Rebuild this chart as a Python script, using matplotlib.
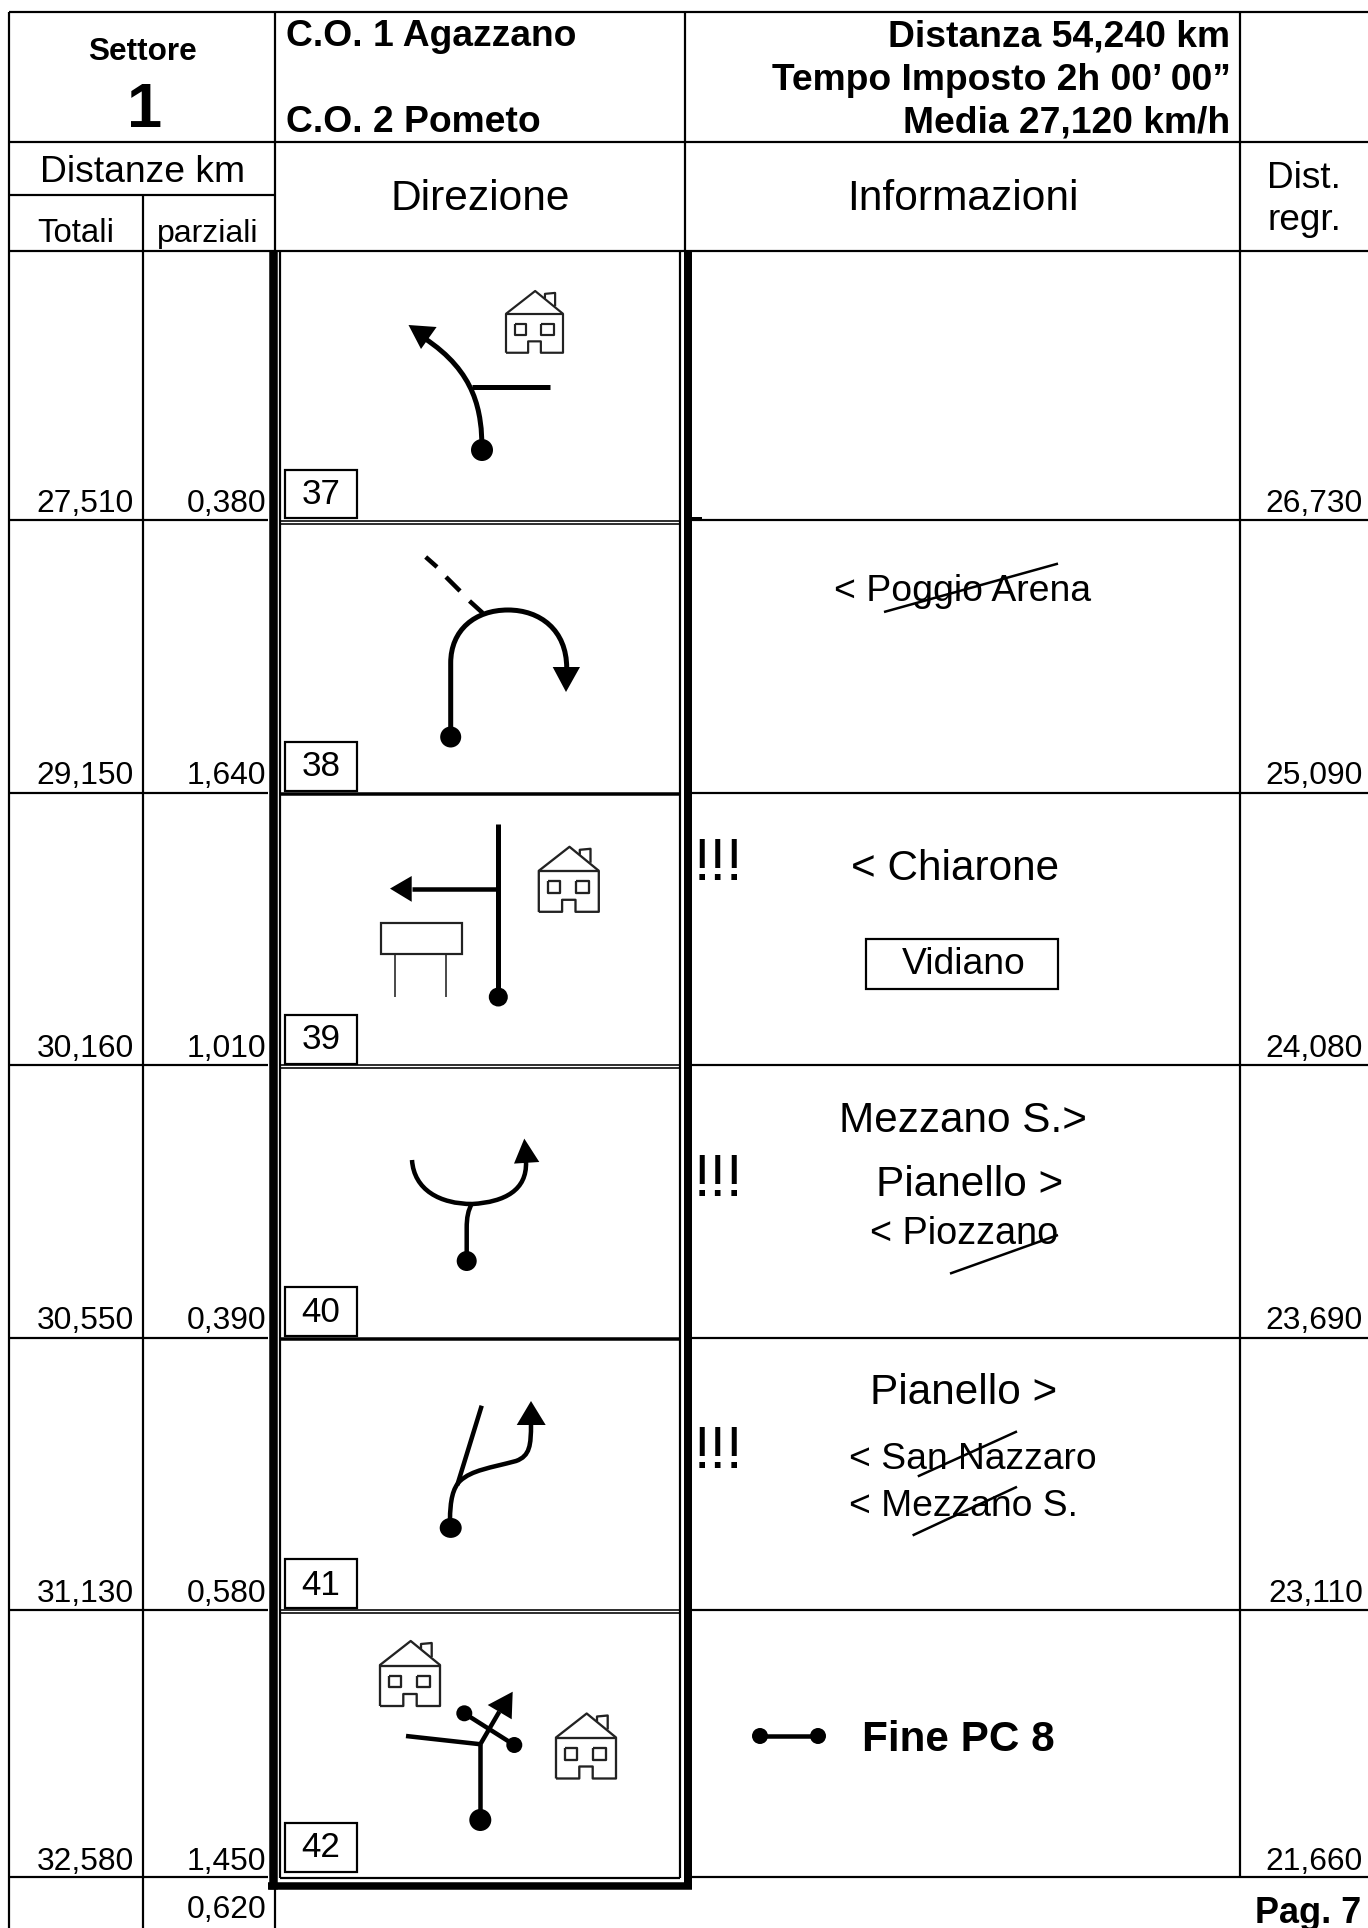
import matplotlib
matplotlib.use('Agg')
import matplotlib.pyplot as plt
from matplotlib.patches import Circle, Ellipse, PathPatch, Polygon, Rectangle
from matplotlib.path import Path

plt.rcParams['font.family'] = ['Liberation Sans', 'DejaVu Sans']

WIDTH = 1368
HEIGHT = 1928
DPI = 100

# values read from the page
totali = ['27,510', '29,150', '30,160', '30,550', '31,130', '32,580']
parziali = ['0,380', '1,640', '1,010', '0,390', '0,580', '1,450', '0,620']
regressive = ['26,730', '25,090', '24,080', '23,690', '23,110', '21,660']
note_numbers = ['37', '38', '39', '40', '41', '42']

row_lines = [251, 520, 793, 1065, 1338, 1610, 1877]
box_tops = [470, 742, 1015, 1287, 1559, 1823]
box_bottoms = [518, 791, 1063.5, 1336, 1607.5, 1872]
box_baselines = [504, 776, 1049, 1322, 1595, 1857]
value_baselines = [512, 784, 1057, 1329, 1602, 1870]

fig = plt.figure(figsize=(WIDTH / DPI, HEIGHT / DPI), dpi=DPI, facecolor='white')
ax = fig.add_axes([0, 0, 1, 1])
ax.set_xlim(0, WIDTH)
ax.set_ylim(HEIGHT, 0)
ax.axis('off')


def pt(px):
    return px * 72 / DPI


def line(xs, ys, width=2.2, color='black', zorder=2):
    ax.plot(xs, ys, color=color, lw=pt(width), solid_capstyle='butt', zorder=zorder)


def label(x, y, text, size, ha='left', bold=False):
    ax.text(x, y, text, fontsize=pt(size), ha=ha, va='baseline', color='black',
            fontweight='bold' if bold else 'normal', zorder=5)


def dot(x, y, r):
    ax.add_patch(Circle((x, y), r, fc='black', ec='none', zorder=4))


def arrow_head(points):
    ax.add_patch(Polygon(points, closed=True, fc='black', ec='none', zorder=4))


def curve(start, segments, width=5):
    verts = [start]
    codes = [Path.MOVETO]
    for seg in segments:
        if len(seg) == 1:
            verts += seg
            codes += [Path.LINETO]
        else:
            verts += seg
            codes += [Path.CURVE4] * 3
    ax.add_patch(PathPatch(Path(verts, codes), fc='none', ec='black', lw=pt(width),
                           capstyle='butt', zorder=3))


def house(x, y, scale=1.0):
    c = '#222222'
    w = 2.3 * scale

    def seg(pts):
        line([x + p[0] * scale for p in pts], [y + p[1] * scale for p in pts], width=w, color=c)

    seg([(0, 65), (0, 24), (30.7, 0), (60, 24), (60, 65), (36.7, 65), (36.7, 53), (23.3, 53), (23.3, 65), (0, 65)])
    seg([(0, 24.6), (60, 24.6)])
    seg([(41, 8), (41, 3), (51.7, 2), (51.7, 16)])
    seg([(9, 34.6), (20.7, 34.6), (20.7, 46), (9, 46), (9, 34.6)])
    seg([(37.3, 34.6), (50, 34.6), (50, 46), (37.3, 46), (37.3, 34.6)])


# table grid
line([9, 1368], [12, 12])
line([9, 1368], [142, 142])
line([9, 275], [195, 195])
line([9, 1368], [251, 251])
line([9, 9], [12, 1928])
line([143, 143], [195, 1928])
line([275, 275], [12, 251])
line([275, 275], [1889, 1928])
line([685, 685], [12, 251])
line([1239.5, 1239.5], [12, 1877])

for y in row_lines[1:]:
    line([9, 268], [y, y])
    line([692, 1368], [y, y])

# central column frame
line([272.5, 272.5], [251, 1889], width=8.5)
line([687.5, 687.5], [251, 1889], width=8)
line([268, 692], [1885.5, 1885.5], width=7.5)
line([280, 280], [251, 1878])
line([679.5, 679.5], [251, 1878])
line([280, 680], [1878, 1878])
for y in [520.7, 523.5, 1065, 1067.8, 1610, 1613]:
    line([280, 680], [y, y], width=1.6)
for y in [794, 1338.6]:
    line([280, 680], [y, y], width=3.5)
line([691, 702], [518, 518], width=2)

# header text
label(143, 60, 'Settore', 31.5, ha='center', bold=True)
label(145, 127, '1', 63, ha='center', bold=True)
label(286, 46, 'C.O. 1 Agazzano', 37.3, bold=True)
label(286, 132, 'C.O. 2 Pometo', 37.3, bold=True)
label(1230.5, 46, 'Distanza 54,240 km', 37.3, ha='right', bold=True)
label(1230.5, 89.5, 'Tempo Imposto 2h 00\u2019 00\u201d', 37.3, ha='right', bold=True)
label(1230.5, 132.5, 'Media 27,120 km/h', 37.3, ha='right', bold=True)
label(143, 182, 'Distanze km', 37.3, ha='center')
label(480, 210, 'Direzione', 42.5, ha='center')
label(963, 210, 'Informazioni', 42.5, ha='center')
label(76, 242, 'Totali', 33, ha='center')
label(208, 242, 'parziali', 32, ha='center')
label(1304, 188, 'Dist.', 37, ha='center')
label(1304, 230.5, 'regr.', 37, ha='center')

# distances and note numbers
for i, y in enumerate(value_baselines):
    label(134, y, totali[i], 31.8, ha='right')
    label(266.5, y, parziali[i], 31.8, ha='right')
    label(1363, y, regressive[i], 31.8, ha='right')
label(266.5, 1918, parziali[6], 31.8, ha='right')

for i, num in enumerate(note_numbers):
    ax.add_patch(Rectangle((285, box_tops[i]), 72, box_bottoms[i] - box_tops[i],
                           fc='white', ec='black', lw=pt(2.2), zorder=3))
    label(321, box_baselines[i], num, 35, ha='center')

# 37
house(506, 291, 0.95)
curve((482, 450), [[(482, 412), (476, 372), (424, 338)]])
arrow_head([(408.5, 325), (436.6, 327), (421, 349)])
line([472, 550], [387, 387], width=5)
dot(482, 450, 11)

# 38
curve((450.7, 737), [[(450.7, 663)], [(450.7, 630), (475, 610), (508, 610)],
                     [(540, 610), (566.7, 630), (566.7, 668)]])
arrow_head([(566, 692), (552.7, 667), (580, 667)])
line([425.7, 437], [557, 567], width=4.5)
line([446, 460], [577, 591], width=4.5)
line([469.5, 482.7], [601, 613], width=4.5)
dot(450.7, 737, 10.5)

# 39
house(538.8, 846.8)
line([498.3, 498.3], [824, 997], width=5)
line([411.7, 498.3], [888.6, 888.6], width=4.5)
arrow_head([(390, 888.6), (411.7, 876), (411.7, 901.8)])
ax.add_patch(Rectangle((380.7, 922.5), 81.6, 31, fc='white', ec='#222222', lw=pt(2.2), zorder=3))
line([395, 395], [953.6, 996.5], width=1.6, color='#222222')
line([445.7, 445.7], [953.6, 996.5], width=1.6, color='#222222')
dot(498.3, 997, 9.5)

# 40
curve((412, 1160), [[(414, 1190), (440, 1204), (472.3, 1204)],
                    [(505, 1202), (527, 1190), (526, 1162)]], width=4.5)
curve((466.7, 1255), [[(466.7, 1228)], [(466.7, 1218), (468, 1210), (472.3, 1203)]], width=4.5)
arrow_head([(524.3, 1138.6), (514, 1163.6), (539.3, 1162)])
dot(466.7, 1261, 10)

# 41
curve((450, 1521), [[(450, 1500), (453, 1488), (460, 1481)],
                    [(472, 1470), (490, 1468), (516, 1461)],
                    [(530, 1456), (531, 1445), (531, 1424)]], width=4.5)
line([457.3, 481.7], [1485, 1405.7], width=4.5)
arrow_head([(531, 1401), (516.7, 1425), (545.7, 1425)])
ax.add_patch(Ellipse((450.7, 1527.9), 22, 20, fc='black', ec='none', zorder=4))

# 42
house(380, 1641)
house(556, 1713.5)
line([480.3, 480.3], [1744, 1820], width=4.5)
line([406, 481], [1736, 1744.3], width=4.5)
line([480.3, 499.3], [1744.3, 1711.7], width=4.5)
arrow_head([(512.7, 1691.7), (487.7, 1705), (511.7, 1719.3)])
line([464.3, 514.3], [1713.3, 1745], width=4.5)
dot(464.3, 1713.3, 8)
dot(514.3, 1745, 8)
dot(480.3, 1820, 11)

# information column
label(693.5, 880, '!!!', 59)
label(693.5, 1196, '!!!', 59)
label(693.5, 1468, '!!!', 59)

label(833.6, 601.4, '< Poggio Arena', 37.4)
line([884, 1058], [612, 563.6], width=2.5)

label(851, 879.6, '< Chiarone', 42.3)
ax.add_patch(Rectangle((865.6, 938.6), 192.4, 50.4, fc='white', ec='black', lw=pt(2.2), zorder=3))
label(963.5, 974, 'Vidiano', 37.3, ha='center')

label(838.8, 1131.8, 'Mezzano S.>', 42.3)
label(876, 1195.7, 'Pianello >', 42.3)
label(870, 1244, '< Piozzano', 37.8)
line([950, 1058], [1273.6, 1235], width=2.5)

label(870, 1404, 'Pianello >', 42.3)
label(849, 1469, '< San Nazzaro', 37.3)
line([917.8, 1017], [1476.4, 1431.4], width=2.5)
label(849, 1516.4, '< Mezzano S.', 37.3)
line([912.6, 1017], [1535.4, 1486.8], width=2.5)

line([760, 818], [1736, 1736], width=4.5)
dot(760, 1736, 8)
dot(818, 1736, 8)
label(862, 1750.7, 'Fine PC 8', 42.3, bold=True)

label(1361, 1922.7, 'Pag. 7', 36, ha='right', bold=True)

fig.savefig('out.png', dpi=DPI, facecolor='white')
